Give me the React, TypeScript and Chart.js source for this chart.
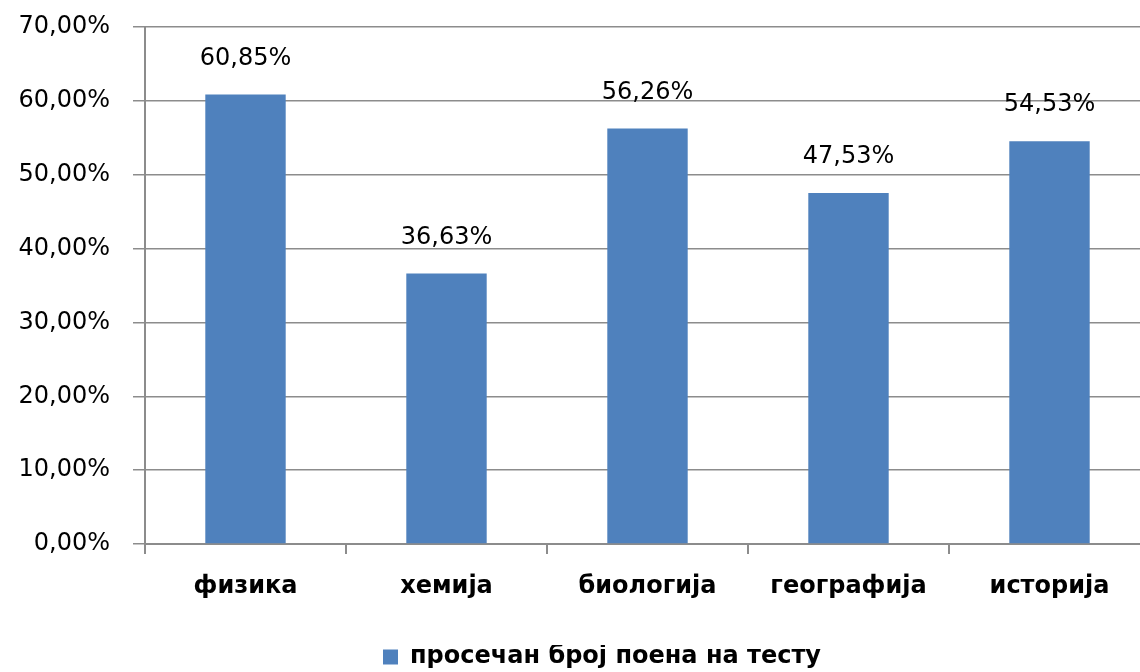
import React, { useEffect, useRef } from "react";
import { Chart, registerables } from "chart.js";

Chart.register(...registerables);

const categories = ["физика", "хемија", "биологија", "географија", "историја"];
const values = [60.85, 36.63, 56.26, 47.53, 54.53];
const seriesLabel = "просечан број поена на тесту";
const yTicks = [0, 10, 20, 30, 40, 50, 60, 70];

const FONT = "'DejaVu Sans', sans-serif";
const BAR = "#4F81BD";
const GRID = "#8C8C8C";

const fmt = (v: number) => v.toFixed(2).replace(".", ",") + "%";

const dataLabels = {
  id: "dataLabels",
  afterDatasetsDraw(chart: any) {
    const ctx = chart.ctx;
    const meta = chart.getDatasetMeta(0);
    ctx.save();
    ctx.font = `24px ${FONT}`;
    ctx.fillStyle = "#000";
    ctx.textAlign = "center";
    ctx.textBaseline = "middle";
    meta.data.forEach((bar: any, i: number) => {
      ctx.fillText(fmt(values[i]), bar.x, bar.y - 36);
    });
    ctx.restore();
  },
};

const shiftLegend = {
  id: "shiftLegend",
  afterLayout(chart: any) {
    const lg = chart.legend;
    if (lg) {
      lg.left += 27;
      lg.right += 27;
      lg.top += 7;
      lg.bottom += 7;
    }
  },
};

export default function App() {
  const ref = useRef<HTMLCanvasElement>(null);
  useEffect(() => {
    if (!ref.current) return;
    const chart = new Chart(ref.current, {
      type: "bar",
      data: {
        labels: categories,
        datasets: [
          {
            label: seriesLabel,
            data: values,
            backgroundColor: BAR,
            borderWidth: 0,
            barPercentage: 0.4,
            categoryPercentage: 1,
          },
        ],
      },
      options: {
        responsive: false,
        animation: false,
        layout: { padding: { top: 27, left: 0, right: 0, bottom: 0 } },
        plugins: {
          tooltip: { enabled: false },
          legend: {
            position: "bottom",
            labels: {
              font: { family: FONT, size: 24, weight: "bold" },
              color: "#000",
              boxWidth: 15,
              boxHeight: 15,
              padding: 0,
            },
          },
        },
        scales: {
          x: {
            grid: {
              offset: true,
              drawOnChartArea: false,
              drawTicks: true,
              tickLength: 10,
              color: GRID,
              lineWidth: 2,
            },
            border: { color: GRID, width: 2 },
            ticks: {
              font: { family: FONT, size: 24, weight: "bold" },
              color: "#000",
              padding: 18,
            },
            afterFit: (s: any) => {
              s.height = 94;
            },
          },
          y: {
            min: 0,
            max: 70,
            afterBuildTicks: (s: any) => {
              s.ticks = yTicks.map((v) => ({ value: v }));
            },
            grid: { color: GRID, tickLength: 12, lineWidth: 1.5 },
            border: { color: GRID, width: 2 },
            ticks: {
              font: { family: FONT, size: 24 },
              color: "#000",
              padding: 23,
              callback: (v: any) => fmt(Number(v)),
            },
            afterFit: (s: any) => {
              s.width = 145;
              s.paddingTop = 0;
              s.paddingBottom = 0;
            },
          },
        },
      },
      plugins: [dataLabels, shiftLegend],
    });
    return () => chart.destroy();
  }, []);
  return (
    <div
      style={{
        position: "fixed",
        left: 0,
        top: 0,
        width: 1140,
        height: 672,
        overflow: "hidden",
        background: "#fff",
      }}
    >
      <canvas ref={ref} width={1150} height={672} />
    </div>
  );
}
